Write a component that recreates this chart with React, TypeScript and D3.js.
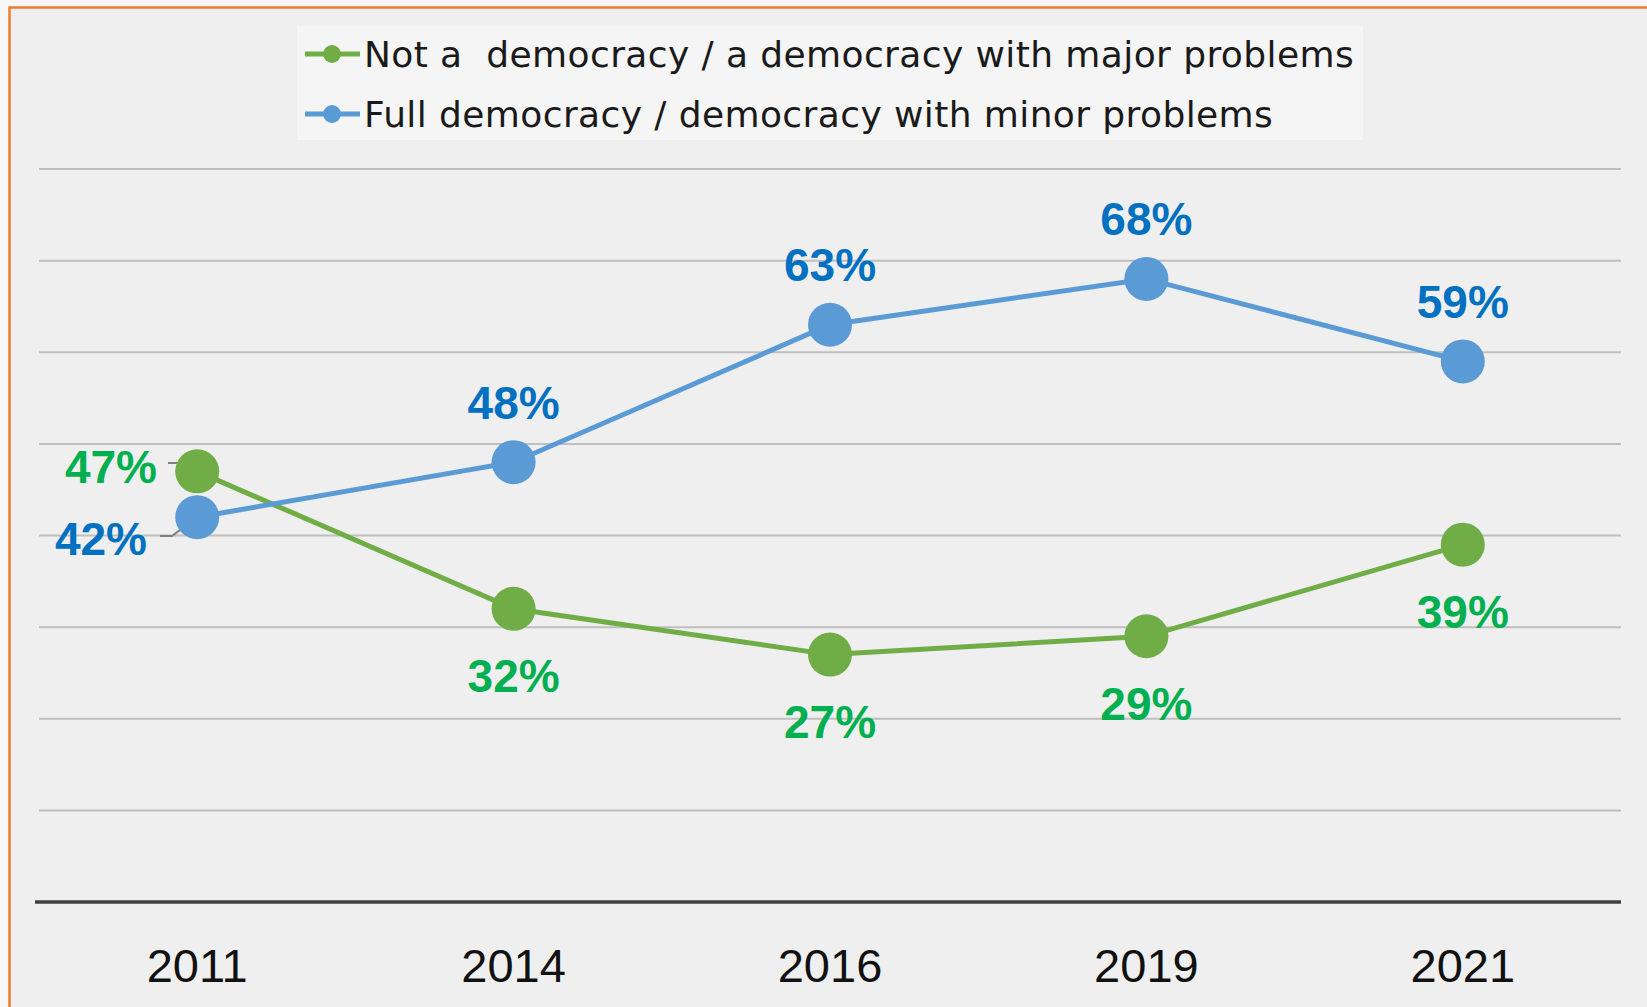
import React from 'react';
import * as d3 from 'd3';

// chart data
const years = ['2011', '2014', '2016', '2019', '2021'];
const notDemocracy = [47, 32, 27, 29, 39];
const fullDemocracy = [42, 48, 63, 68, 59];
const gridTicks = [10, 20, 30, 40, 50, 60, 70, 80];
const seriesNames = [
  'Not a  democracy / a democracy with major problems',
  'Full democracy / democracy with minor problems',
];

const W = 1647;
const H = 1007;

const App = () => {
  const x = d3.scalePoint<string>().domain(years).range([39, 1621]).padding(0.5);
  const y = d3.scaleLinear().domain([0, 80]).range([902, 169]);

  const line = d3
    .line<number>()
    .x((d, i) => x(years[i]) as number)
    .y((d) => y(d));

  const series = [
    { name: seriesNames[0], values: notDemocracy, color: '#70AD47', label: '#00B050', above: false },
    { name: seriesNames[1], values: fullDemocracy, color: '#5B9BD5', label: '#0070C0', above: true },
  ];

  const labelFont = "'Liberation Sans', Arial, sans-serif";

  return (
    <svg width={W} height={H} style={{ position: 'absolute', left: 0, top: 0, display: 'block' }}>
      <rect x={0} y={0} width={W} height={H} fill="#F7F7F7" />
      {/* orange frame, runs off the right and bottom edges */}
      <rect x={9.5} y={7.5} width={W + 20} height={H + 20} fill="#EFEFEF" stroke="#ED7D31" strokeWidth={2.5} />

      {/* legend */}
      <rect x={297} y={26} width={1066} height={114} fill="#F5F5F5" />
      {series.map((s, i) => {
        const ly = 54 + i * 60;
        return (
          <g key={s.name}>
            <line x1={305} x2={360} y1={ly} y2={ly} stroke={s.color} strokeWidth={5} />
            <circle cx={332} cy={ly} r={9} fill={s.color} />
            <text
              x={364}
              y={ly + 13}
              fontFamily="'DejaVu Sans', sans-serif"
              fontSize={36}
              letterSpacing={0.4}
              fill="#1a1a1a"
              style={{ whiteSpace: 'pre' }}
            >
              {s.name}
            </text>
          </g>
        );
      })}

      {/* gridlines */}
      {gridTicks.map((t) => (
        <line key={t} x1={39} x2={1621} y1={y(t)} y2={y(t)} stroke="#BFBFBF" strokeWidth={2} />
      ))}
      <line x1={35} x2={1621} y1={y(0)} y2={y(0)} stroke="#404040" strokeWidth={3.5} />

      {/* x axis labels */}
      {years.map((yr) => (
        <text
          key={yr}
          x={x(yr)}
          y={982}
          textAnchor="middle"
          fontFamily={labelFont}
          fontSize={47}
          fill="#111"
        >
          {yr}
        </text>
      ))}

      {/* leader lines for the 2011 labels */}
      <polyline
        points={`168,463 178,463 ${x(years[0])},${y(notDemocracy[0])}`}
        fill="none"
        stroke="#7F7F7F"
        strokeWidth={2}
      />
      <polyline
        points={`160,536 172,536 ${x(years[0])},${y(fullDemocracy[0])}`}
        fill="none"
        stroke="#7F7F7F"
        strokeWidth={2}
      />

      {series.map((s) => (
        <g key={s.name}>
          <path d={line(s.values) as string} fill="none" stroke={s.color} strokeWidth={5} />
          {s.values.map((v, i) => (
            <circle key={i} cx={x(years[i])} cy={y(v)} r={22} fill={s.color} />
          ))}
          {s.values.map((v, i) => {
            let lx = x(years[i]) as number;
            let ly = s.above ? y(v) - 60 : y(v) + 67;
            let anchor = 'middle';
            if (i === 0) {
              anchor = 'end';
              lx = s.above ? 147 : 157;
              ly = s.above ? 538 : 466;
            }
            return (
              <text
                key={'l' + i}
                x={lx}
                y={ly + 16.5}
                textAnchor={anchor}
                fontFamily={labelFont}
                fontWeight="bold"
                fontSize={46}
                fill={s.label}
              >
                {v}%
              </text>
            );
          })}
        </g>
      ))}
    </svg>
  );
};

export default App;
